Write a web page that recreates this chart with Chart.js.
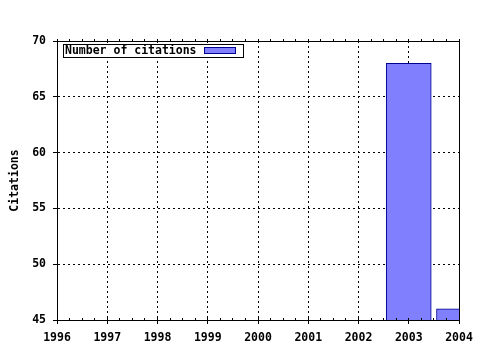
<!DOCTYPE html>
<html>
<head>
<meta charset="utf-8">
<script src="https://cdn.jsdelivr.net/npm/chart.js@4/dist/chart.umd.min.js"></script>
<style>
  html, body { margin: 0; padding: 0; background: #ffffff; }
  #wrap { width: 480px; height: 350px; position: relative; }
</style>
</head>
<body>
<div id="wrap"><canvas id="c" width="480" height="350"></canvas></div>
<script>
// ---- data ----
const years = [2003, 2004];
const citations = [68, 46];
const seriesLabel = 'Number of citations';
const yAxisTitle = 'Citations';
const xMin = 1996, xMax = 2004;
const yMin = 45, yMax = 70;

const FONT = 'DejaVu Sans Mono';
const fill = '#8080ff';
const edge = '#000090';

const framePlugin = {
  id: 'frame',
  afterDatasetsDraw(chart) {
    const {ctx, chartArea: a, scales} = chart;
    const xs = scales.x, ys = scales.y;
    const rx = Math.round(xs.getPixelForValue(xMax) - 0.5) + 0.5;
    const ty = Math.round(ys.getPixelForValue(yMax) - 0.5) + 0.5;
    ctx.save();
    ctx.strokeStyle = '#000';
    ctx.lineWidth = 1;
    // top and right frame lines
    ctx.beginPath();
    ctx.moveTo(a.left, ty); ctx.lineTo(rx + 0.5, ty);
    ctx.moveTo(rx, ty); ctx.lineTo(rx, a.bottom);
    ctx.stroke();
    // minor ticks on x (quarter years), top and bottom
    ctx.beginPath();
    for (let v = xMin; v <= xMax + 1e-9; v += 0.25) {
      const px = Math.round(xs.getPixelForValue(v) - 0.5) + 0.5;
      ctx.moveTo(px, a.top); ctx.lineTo(px, a.top - 2);
      ctx.moveTo(px, a.bottom); ctx.lineTo(px, a.bottom - 2);
    }
    ctx.stroke();
    // legend box
    const lx = 63, ly = 44, lw = 180, lh = 13;
    ctx.fillStyle = '#fff';
    ctx.fillRect(lx, ly, lw, lh);
    ctx.strokeRect(lx + 0.5, ly + 0.5, lw, lh);
    ctx.fillStyle = '#000';
    ctx.font = 'bold 11.5px "' + FONT + '"';
    ctx.textBaseline = 'middle';
    ctx.textAlign = 'left';
    ctx.fillText(chart.data.datasets[0].label, lx + 2, ly + lh / 2 + 1);
    ctx.fillStyle = fill;
    ctx.fillRect(204, 47, 32, 7);
    ctx.strokeStyle = edge;
    ctx.strokeRect(204.5, 47.5, 31, 6);
    ctx.restore();
  }
};

new Chart(document.getElementById('c'), {
  type: 'bar',
  data: {
    datasets: [{
      label: seriesLabel,
      data: years.map((y, i) => ({x: y, y: citations[i]})),
      backgroundColor: fill,
      borderColor: edge,
      borderWidth: 1,
      borderSkipped: false,
      barThickness: 45
    }]
  },
  options: {
    responsive: false,
    animation: false,
    devicePixelRatio: 1,
    layout: { padding: { top: 41, right: 21, left: 0, bottom: 0 } },
    plugins: { legend: { display: false }, tooltip: { enabled: false }, title: { display: false } },
    scales: {
      x: {
        type: 'linear',
        min: xMin, max: xMax,
        offset: false,
        afterFit(s) { s.height = 30; },
        ticks: {
          stepSize: 1,
          color: '#000',
          font: { family: FONT, size: 11.5, weight: 'bold' },
          padding: 7,
          maxRotation: 0,
          autoSkip: false,
          callback: v => String(v)
        },
        grid: { offset: false, color: '#000', lineWidth: 1, drawTicks: true, tickLength: 4, tickColor: '#000' },
        border: { display: true, color: '#000', width: 1, dash: [2, 3] }
      },
      y: {
        min: yMin, max: yMax,
        afterFit(s) { s.width = 57; },
        ticks: {
          stepSize: 5,
          color: '#000',
          font: { family: FONT, size: 11.5, weight: 'bold' },
          padding: 7
        },
        title: {
          display: true,
          text: yAxisTitle,
          color: '#000',
          font: { family: FONT, size: 11.5, weight: 'bold' },
          padding: { top: 8, bottom: 0 }
        },
        grid: { color: '#000', lineWidth: 1, drawTicks: true, tickLength: 4, tickColor: '#000' },
        border: { display: true, color: '#000', width: 1, dash: [2, 3] }
      }
    }
  },
  plugins: [framePlugin]
});
</script>
</body>
</html>
